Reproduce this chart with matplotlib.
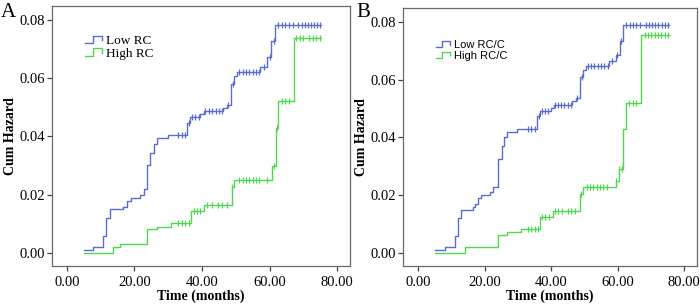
import numpy as np
import matplotlib.pyplot as plt
from matplotlib.lines import Line2D
from matplotlib.legend_handler import HandlerBase

# Panel A: step times and cumulative hazard values
a_low_t = [5, 7.8, 10.8, 11.5, 12.7, 16.7, 17.9, 18.9, 21.6, 22.8, 23.8, 24.6, 25.9, 26.8,
           29.8, 35.6, 36.3, 39.5, 40.5, 46.2, 47.4, 48.7, 49.6, 50.4, 57.3, 59.2, 60.4, 61.7, 75.3]
a_low_h = [0.001, 0.0019, 0.0059, 0.0119, 0.015, 0.0159, 0.018, 0.019, 0.0199, 0.022, 0.0302,
           0.0342, 0.0375, 0.0394, 0.0405, 0.0447, 0.0467, 0.0478, 0.0488, 0.0499, 0.0509,
           0.058, 0.0608, 0.0622, 0.0638, 0.0674, 0.0727, 0.0782, 0.0782]
a_low_c = [33, 34, 35, 36.1, 37, 38, 39, 41, 42, 43, 44, 45, 46, 47.8, 49.2, 51, 52, 53, 54,
           55, 56, 57, 58.3, 60, 61.2, 62.5, 63.6, 64.7, 65.8, 66.8, 68.5, 69.5, 70.4, 71.3,
           72.2, 73.1, 74.1, 75]
a_high_t = [5, 13.7, 15.7, 23.8, 26.8, 30.8, 36.7, 40.7, 48.8, 49.5, 60.8, 61.8, 62.6, 67.1, 75.3]
a_high_h = [0.0, 0.002, 0.003, 0.0081, 0.009, 0.0102, 0.0144, 0.0166, 0.0225, 0.025, 0.0298,
            0.043, 0.0523, 0.0737, 0.0737]
a_high_c = [33, 34, 35, 36, 37.5, 38.5, 39.5, 41.4, 42.9, 44.8, 46, 47.3, 49, 51, 52, 53, 54,
            55, 56, 57, 59.3, 61.2, 62.2, 63.6, 64.6, 65.6, 67.9, 69, 70, 71.8, 72.8, 73.8, 75]

# Panel B
b_low_t = [5, 8.2, 11.2, 11.9, 13, 16.5, 17.2, 18, 18.9, 21.6, 22.6, 23.9, 25.1, 25.9, 26.8,
           29.6, 35.8, 36.6, 39.9, 40.8, 46.4, 47.6, 48.8, 49.6, 50.6, 57.4, 59.6, 60.7, 61.7, 75.3]
b_low_h = [0.0012, 0.002, 0.006, 0.012, 0.015, 0.016, 0.017, 0.019, 0.020, 0.021, 0.023,
           0.0326, 0.037, 0.040, 0.0418, 0.043, 0.0473, 0.0493, 0.0503, 0.0513, 0.0525,
           0.0535, 0.061, 0.0635, 0.0648, 0.0665, 0.0685, 0.0735, 0.079, 0.079]
b_low_c = [33, 34, 35, 36.2, 37.2, 38.1, 39.1, 41.2, 42.1, 43, 44, 45, 46, 47.9, 49.2, 51.2,
           52.1, 53, 54, 55, 56, 57, 58.2, 59.9, 61.1, 62.6, 63.6, 64.6, 65.6, 66.6, 68.4,
           69.4, 70.4, 71.3, 72.2, 73.2, 74.2, 75.1]
b_high_t = [5, 14, 23.9, 26.8, 30.8, 36.6, 40.6, 48.8, 49.6, 59.6, 60.5, 61.5, 62.5, 67, 75.3]
b_high_h = [0.0, 0.002, 0.0062, 0.0073, 0.0084, 0.0125, 0.0146, 0.0204, 0.0229, 0.0248,
            0.0292, 0.043, 0.052, 0.0755, 0.0755]
b_high_c = [33, 34, 35, 36, 37.2, 38.2, 39.5, 41.2, 42.2, 43.3, 45, 46, 47.2, 49, 50.7, 51.7,
            52.7, 53.7, 54.7, 55.7, 56.7, 59.6, 60.5, 61.4, 63.5, 64.5, 65.5, 68.1, 69.1,
            70.1, 71.1, 72.1, 73.1, 74.1, 75.1]

blue = '#5a6ccc'
green = '#4fd84f'
serif = ['Liberation Serif', 'DejaVu Serif']


class StepHandler(HandlerBase):
    # legend sample drawn as a small step, like SPSS does
    def create_artists(self, legend, orig, xd, yd, w, h, fontsize, trans):
        xs = [xd, xd + 0.45 * w, xd + 0.45 * w, xd + w, xd + w]
        ys = [yd + 0.1 * h, yd + 0.1 * h, yd + 0.9 * h, yd + 0.9 * h, yd + 0.45 * h]
        ln = Line2D(xs, ys, color=orig.get_color(), lw=1, transform=trans)
        return [ln]


def hazard_at(t, ts, hs):
    idx = np.searchsorted(ts, t, side='right') - 1
    return np.array(hs)[np.clip(idx, 0, len(hs) - 1)]


def panel(ax, series, labels, legend_font, ylim, leg_y):
    handles = []
    for (ts, hs, cs), color in zip(series, [blue, green]):
        h, = ax.step(ts, hs, where='post', color=color, lw=1)
        ax.plot(cs, hazard_at(cs, ts, hs), ls='none', marker='|', ms=5, mew=0.9, color=color)
        handles.append(h)
    ax.set_xlim(-4.5, 83.8)
    ax.set_ylim(*ylim)
    ax.set_xticks([0, 20, 40, 60, 80])
    ax.set_yticks([0, 0.02, 0.04, 0.06, 0.08])
    ax.xaxis.set_major_formatter(plt.FormatStrFormatter('%.2f'))
    ax.yaxis.set_major_formatter(plt.FormatStrFormatter('%.2f'))
    ax.tick_params(direction='out', length=3.6, width=0.9, color='#444444', labelsize=10.5)
    ax.tick_params(axis='x', pad=3.5)
    ax.tick_params(axis='y', pad=1.5)
    for lab in ax.get_xticklabels() + ax.get_yticklabels():
        lab.set_family(serif)
    for s in ax.spines.values():
        s.set_color('#6a6a6a')
        s.set_linewidth(0.9)
    ax.set_xlabel('Time (months)', family=serif, fontweight='bold', fontsize=10)
    ax.set_ylabel('Cum Hazard', family=serif, fontweight='bold', fontsize=10)
    ax.xaxis.set_label_coords(0.5, -0.09)
    ax.yaxis.set_label_coords(-0.118, 0.5)
    ax.legend(handles, labels, loc='upper left', bbox_to_anchor=(0.112, leg_y), frameon=False,
              handler_map={h: StepHandler() for h in handles}, prop=legend_font,
              handlelength=1.3, handletextpad=0.3, labelspacing=0.05,
              borderpad=0, borderaxespad=0)


fig = plt.figure(figsize=(7, 3.06), dpi=100)
ax1 = fig.add_axes([0.0739, 0.1307, 0.4261, 0.8497])
ax2 = fig.add_axes([0.5757, 0.1307, 0.42, 0.8431])

panel(ax1, [(a_low_t, a_low_h, a_low_c), (a_high_t, a_high_h, a_high_c)],
      ['Low RC', 'High RC'], {'family': serif, 'size': 9.5}, (-0.00446, 0.0848), 0.89)
panel(ax2, [(b_low_t, b_low_h, b_low_c), (b_high_t, b_high_h, b_high_c)],
      ['Low RC/C', 'High RC/C'], {'family': ['Liberation Sans', 'DejaVu Sans'], 'size': 8},
      (-0.0045, 0.0848), 0.875)

fig.text(0.001, 0.99, 'A', family=serif, fontsize=15, va='top', ha='left')
fig.text(0.509, 0.99, 'B', family=serif, fontsize=15, va='top', ha='left')

fig.savefig('out.png', dpi=100)
